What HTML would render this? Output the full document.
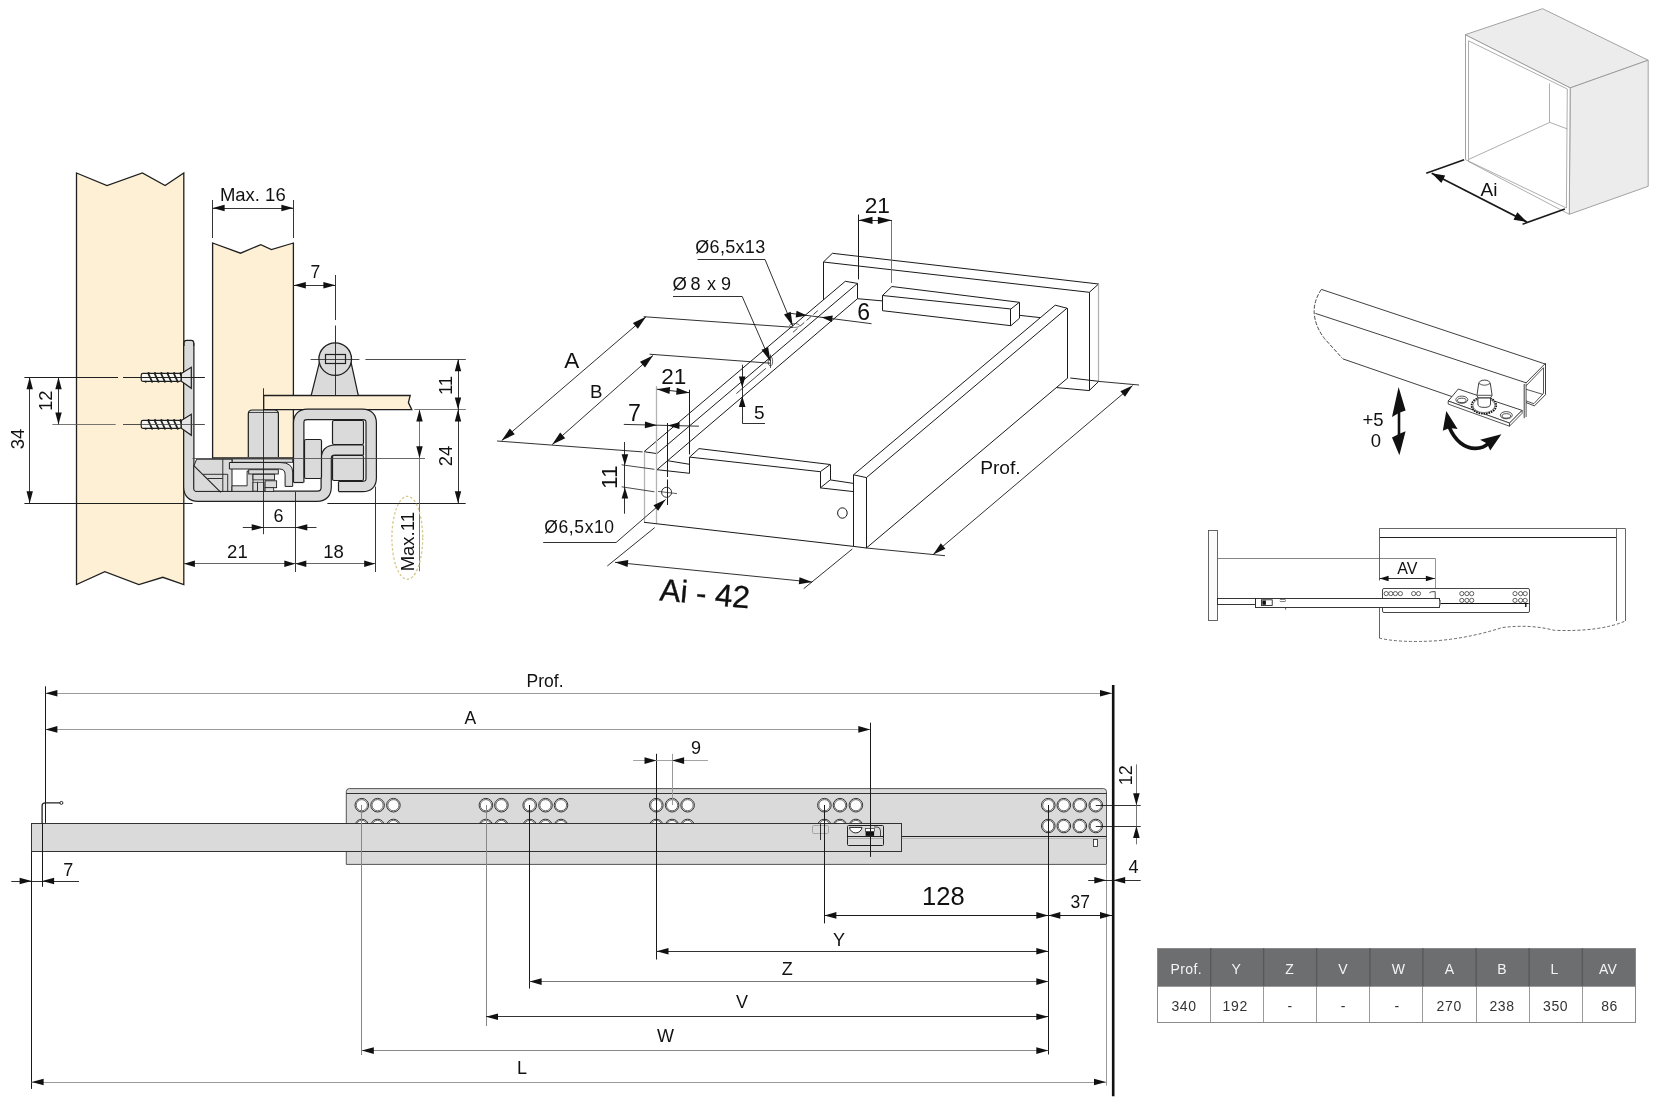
<!DOCTYPE html>
<html><head><meta charset="utf-8"><title>Drawer runner</title>
<style>html,body{margin:0;padding:0;background:#fff;}body{width:1676px;height:1108px;overflow:hidden;}svg{display:block;will-change:transform;}text{font-family:"Liberation Sans",sans-serif;}</style>
</head><body>
<svg width="1676" height="1108" viewBox="0 0 1676 1108">
<rect x="0" y="0" width="1676" height="1108" fill="#ffffff"/>
<polygon points="76.5,173 107,185.5 142.4,173 165.1,185.5 183.8,173 183.8,584.6 162.8,577.3 138.9,584.6 104.8,571.7 76.5,584.6" fill="#fef0d5" stroke="#1f1f1f" stroke-width="1.3" stroke-linejoin="miter" />
<polygon points="212.6,243 240.5,253.2 260.8,244.6 271.4,249.6 293.4,243 293.4,458 212.6,458" fill="#fef0d5" stroke="#1f1f1f" stroke-width="1.3" stroke-linejoin="miter" />
<line x1="212.5" y1="200" x2="212.5" y2="238" stroke="#1f1f1f" stroke-width="0.9" />
<line x1="293.5" y1="200" x2="293.5" y2="238" stroke="#1f1f1f" stroke-width="0.9" />
<line x1="212.6" y1="208.5" x2="293.4" y2="208.5" stroke="#1f1f1f" stroke-width="0.9" />
<polygon points="212.6,208 224.6,204.8 224.6,211.2" fill="#111" stroke="none" stroke-linejoin="miter" />
<polygon points="293.4,208 281.4,211.2 281.4,204.8" fill="#111" stroke="none" stroke-linejoin="miter" />
<text x="252.8" y="201" font-family="Liberation Sans" font-size="18.5" text-anchor="middle" fill="#111" >Max. 16</text>
<line x1="293.8" y1="285.5" x2="335.4" y2="285.5" stroke="#1f1f1f" stroke-width="0.9" />
<polygon points="293.8,285.2 305.8,282 305.8,288.4" fill="#111" stroke="none" stroke-linejoin="miter" />
<polygon points="335.4,285.2 323.4,288.4 323.4,282" fill="#111" stroke="none" stroke-linejoin="miter" />
<text x="315.4" y="278" font-family="Liberation Sans" font-size="17.5" text-anchor="middle" fill="#111" >7</text>
<line x1="335.5" y1="275" x2="335.5" y2="320" stroke="#1f1f1f" stroke-width="0.9" />
<line x1="335.5" y1="325.5" x2="335.5" y2="395" stroke="#1f1f1f" stroke-width="0.9" />
<line x1="24.4" y1="377.5" x2="118" y2="377.5" stroke="#1f1f1f" stroke-width="1.0" />
<line x1="123" y1="377.5" x2="204.7" y2="377.5" stroke="#1f1f1f" stroke-width="1.0" />
<line x1="52.4" y1="424.5" x2="115.7" y2="424.5" stroke="#555" stroke-width="0.8" />
<line x1="123" y1="424.5" x2="204.7" y2="424.5" stroke="#555" stroke-width="0.8" />
<line x1="24.4" y1="503.5" x2="192.5" y2="503.5" stroke="#1f1f1f" stroke-width="1.0" />
<line x1="29.5" y1="377.3" x2="29.5" y2="503.3" stroke="#1f1f1f" stroke-width="0.9" />
<polygon points="29.7,377.3 32.9,389.3 26.5,389.3" fill="#111" stroke="none" stroke-linejoin="miter" />
<polygon points="29.7,503.3 26.5,491.3 32.9,491.3" fill="#111" stroke="none" stroke-linejoin="miter" />
<text x="24" y="439" font-family="Liberation Sans" font-size="18.5" text-anchor="middle" fill="#111" transform="rotate(-90 24 439)" dominant-baseline="auto">34</text>
<line x1="58.5" y1="377.3" x2="58.5" y2="424.4" stroke="#1f1f1f" stroke-width="0.9" />
<polygon points="58.5,377.3 61.7,389.3 55.3,389.3" fill="#111" stroke="none" stroke-linejoin="miter" />
<polygon points="58.5,424.4 55.3,412.4 61.7,412.4" fill="#111" stroke="none" stroke-linejoin="miter" />
<text x="52.5" y="400.7" font-family="Liberation Sans" font-size="18.5" text-anchor="middle" fill="#111" transform="rotate(-90 52.5 400.7)" >12</text>
<path d="M188.8,343 L188.8,487 Q188.8,496.2 198,496.2 L317,496.2 Q326.2,496.2 326.2,487 L326.2,459 Q326.2,450.1 335,450.1 L363.5,450.1" fill="none" stroke="#1f1f1f" stroke-width="11.4" stroke-linejoin="round"/>
<path d="M188.8,343 L188.8,487 Q188.8,496.2 198,496.2 L317,496.2 Q326.2,496.2 326.2,487 L326.2,459 Q326.2,450.1 335,450.1 L363.5,450.1" fill="none" stroke="#dadada" stroke-width="9" stroke-linejoin="round"/>
<path d="M184.1,346 L184.1,342.5 Q184.1,340.3 186.5,340.3 L191.3,340.3 Q193.7,340.3 193.7,342.5 L193.7,346" fill="#dadada" stroke="#1f1f1f" stroke-width="1.2" />
<rect x="141.2" y="373.4" width="40.1" height="7.9" rx="1.8" fill="#f7f7f3" stroke="#1f1f1f" stroke-width="1.2" />
<line x1="148.2" y1="373.4" x2="151.9" y2="381.3" stroke="#1f1f1f" stroke-width="1.7" />
<circle cx="148.6" cy="373" r="1" fill="#1f1f1f" stroke="none" />
<circle cx="145.7" cy="381.7" r="1" fill="#1f1f1f" stroke="none" />
<line x1="154.6" y1="373.4" x2="158.3" y2="381.3" stroke="#1f1f1f" stroke-width="1.7" />
<circle cx="155" cy="373" r="1" fill="#1f1f1f" stroke="none" />
<circle cx="152.1" cy="381.7" r="1" fill="#1f1f1f" stroke="none" />
<line x1="161" y1="373.4" x2="164.7" y2="381.3" stroke="#1f1f1f" stroke-width="1.7" />
<circle cx="161.4" cy="373" r="1" fill="#1f1f1f" stroke="none" />
<circle cx="158.5" cy="381.7" r="1" fill="#1f1f1f" stroke="none" />
<line x1="167.4" y1="373.4" x2="171.1" y2="381.3" stroke="#1f1f1f" stroke-width="1.7" />
<circle cx="167.8" cy="373" r="1" fill="#1f1f1f" stroke="none" />
<circle cx="164.9" cy="381.7" r="1" fill="#1f1f1f" stroke="none" />
<line x1="173.8" y1="373.4" x2="177.5" y2="381.3" stroke="#1f1f1f" stroke-width="1.7" />
<circle cx="174.2" cy="373" r="1" fill="#1f1f1f" stroke="none" />
<circle cx="171.3" cy="381.7" r="1" fill="#1f1f1f" stroke="none" />
<line x1="180.2" y1="373.4" x2="183.9" y2="381.3" stroke="#1f1f1f" stroke-width="1.7" />
<circle cx="180.6" cy="373" r="1" fill="#1f1f1f" stroke="none" />
<circle cx="177.7" cy="381.7" r="1" fill="#1f1f1f" stroke="none" />
<polygon points="181.3,373.4 191.3,367.3 191.3,388.3 181.3,381.3" fill="#e6e6e6" stroke="#1f1f1f" stroke-width="1.2" stroke-linejoin="miter" />
<line x1="123" y1="377.5" x2="204.7" y2="377.5" stroke="#1f1f1f" stroke-width="1.0" />
<rect x="141.2" y="420.4" width="40.1" height="7.9" rx="1.8" fill="#f7f7f3" stroke="#1f1f1f" stroke-width="1.2" />
<line x1="148.2" y1="420.4" x2="151.9" y2="428.3" stroke="#1f1f1f" stroke-width="1.7" />
<circle cx="148.6" cy="420" r="1" fill="#1f1f1f" stroke="none" />
<circle cx="145.7" cy="428.7" r="1" fill="#1f1f1f" stroke="none" />
<line x1="154.6" y1="420.4" x2="158.3" y2="428.3" stroke="#1f1f1f" stroke-width="1.7" />
<circle cx="155" cy="420" r="1" fill="#1f1f1f" stroke="none" />
<circle cx="152.1" cy="428.7" r="1" fill="#1f1f1f" stroke="none" />
<line x1="161" y1="420.4" x2="164.7" y2="428.3" stroke="#1f1f1f" stroke-width="1.7" />
<circle cx="161.4" cy="420" r="1" fill="#1f1f1f" stroke="none" />
<circle cx="158.5" cy="428.7" r="1" fill="#1f1f1f" stroke="none" />
<line x1="167.4" y1="420.4" x2="171.1" y2="428.3" stroke="#1f1f1f" stroke-width="1.7" />
<circle cx="167.8" cy="420" r="1" fill="#1f1f1f" stroke="none" />
<circle cx="164.9" cy="428.7" r="1" fill="#1f1f1f" stroke="none" />
<line x1="173.8" y1="420.4" x2="177.5" y2="428.3" stroke="#1f1f1f" stroke-width="1.7" />
<circle cx="174.2" cy="420" r="1" fill="#1f1f1f" stroke="none" />
<circle cx="171.3" cy="428.7" r="1" fill="#1f1f1f" stroke="none" />
<line x1="180.2" y1="420.4" x2="183.9" y2="428.3" stroke="#1f1f1f" stroke-width="1.7" />
<circle cx="180.6" cy="420" r="1" fill="#1f1f1f" stroke="none" />
<circle cx="177.7" cy="428.7" r="1" fill="#1f1f1f" stroke="none" />
<polygon points="181.3,420.4 191.3,414.3 191.3,435.3 181.3,428.3" fill="#e6e6e6" stroke="#1f1f1f" stroke-width="1.2" stroke-linejoin="miter" />
<line x1="123" y1="424.5" x2="204.7" y2="424.5" stroke="#444" stroke-width="0.8" />
<polygon points="263.7,395.5 410.2,395.5 408.4,402.6 411.8,409.7 263.7,409.7" fill="#fef0d5" stroke="#1f1f1f" stroke-width="1.3" stroke-linejoin="miter" />
<polygon points="311.2,395.5 319.5,362 351,362 358.3,395.5" fill="#dadada" stroke="#1f1f1f" stroke-width="1.2" stroke-linejoin="miter" />
<circle cx="335.2" cy="359.1" r="16.3" fill="#dadada" stroke="#1f1f1f" stroke-width="1.3" />
<rect x="325.5" y="354.5" width="20" height="9" fill="#dadada" stroke="#1f1f1f" stroke-width="1.2" />
<line x1="335.5" y1="340" x2="335.5" y2="395.5" stroke="#1f1f1f" stroke-width="0.9" />
<line x1="310.6" y1="359.5" x2="359.4" y2="359.5" stroke="#1f1f1f" stroke-width="0.8" />
<line x1="365.4" y1="359.5" x2="465.8" y2="359.5" stroke="#1f1f1f" stroke-width="0.8" />
<line x1="414.3" y1="409.5" x2="465.8" y2="409.5" stroke="#555" stroke-width="0.8" />
<line x1="458.5" y1="359.2" x2="458.5" y2="503.3" stroke="#1f1f1f" stroke-width="0.9" />
<polygon points="458,359.2 461.2,371.2 454.8,371.2" fill="#111" stroke="none" stroke-linejoin="miter" />
<polygon points="458,409.5 454.8,397.5 461.2,397.5" fill="#111" stroke="none" stroke-linejoin="miter" />
<polygon points="458,409.5 461.2,421.5 454.8,421.5" fill="#111" stroke="none" stroke-linejoin="miter" />
<polygon points="458,503.3 454.8,491.3 461.2,491.3" fill="#111" stroke="none" stroke-linejoin="miter" />
<text x="452" y="385.5" font-family="Liberation Sans" font-size="18.5" text-anchor="middle" fill="#111" transform="rotate(-90 452 385.5)" >11</text>
<text x="452" y="456" font-family="Liberation Sans" font-size="18.5" text-anchor="middle" fill="#111" transform="rotate(-90 452 456)" >24</text>
<path d="M248.3,457 L248.3,414 Q248.3,410 252.3,410 L274.4,410 Q278.4,410 278.4,414 L278.4,457" fill="#dadada" stroke="#1f1f1f" stroke-width="1.2" />
<line x1="248.3" y1="412.5" x2="278.4" y2="412.5" stroke="#1f1f1f" stroke-width="0.8" />
<path d="M298.7,482.5 L298.7,423 Q298.7,414.4 307.3,414.4 L362.6,414.4 Q371.2,414.4 371.2,423 L371.2,478 Q371.2,486.5 362.6,486.5 L338.5,486.5" fill="none" stroke="#1f1f1f" stroke-width="11.6" stroke-linejoin="round"/>
<path d="M298.7,482.5 L298.7,423 Q298.7,414.4 307.3,414.4 L362.6,414.4 Q371.2,414.4 371.2,423 L371.2,478 Q371.2,486.5 362.6,486.5 L338.5,486.5" fill="none" stroke="#dadada" stroke-width="9.2" stroke-linejoin="round"/>
<line x1="293.9" y1="482.5" x2="303.5" y2="482.5" stroke="#1f1f1f" stroke-width="1.2" />
<line x1="338.5" y1="481.7" x2="338.5" y2="491.3" stroke="#1f1f1f" stroke-width="1.2" />
<rect x="332.5" y="420.5" width="31" height="24" rx="1.5" fill="#dadada" stroke="#1f1f1f" stroke-width="1.2" />
<rect x="332.5" y="455.5" width="31" height="25" rx="1.5" fill="#dadada" stroke="#1f1f1f" stroke-width="1.2" />
<rect x="304.5" y="439.5" width="17" height="39" rx="1.5" fill="#dadada" stroke="#1f1f1f" stroke-width="1.2" />
<line x1="363.5" y1="445.3" x2="363.5" y2="455" stroke="#1f1f1f" stroke-width="1.2" />
<rect x="232" y="458.9" width="60.7" height="3.4" fill="#dadada" stroke="#1f1f1f" stroke-width="0.9" />
<path d="M196.6,459.2 L232,459.2 L232,491.4 L196,491.4 Q193.8,491.4 193.8,489 L193.8,466 Z" fill="#dadada" stroke="#1f1f1f" stroke-width="1.0" />
<line x1="222.8" y1="459.2" x2="222.8" y2="491.4" stroke="#1f1f1f" stroke-width="0.9" />
<line x1="227.7" y1="474.3" x2="227.7" y2="491.4" stroke="#1f1f1f" stroke-width="0.9" />
<line x1="203.1" y1="474.3" x2="227.7" y2="474.3" stroke="#1f1f1f" stroke-width="0.9" />
<line x1="207.4" y1="478.5" x2="222.8" y2="478.5" stroke="#1f1f1f" stroke-width="0.9" />
<line x1="193.8" y1="465.7" x2="220.8" y2="492.4" stroke="#1f1f1f" stroke-width="1.1" />
<path d="M229.4,462.5 L280,462.5 Q292.7,462.5 292.7,472 L292.7,486.4 L285.1,486.4 L285.1,474.5 Q285.1,469 279.5,469 L229.4,469 Z" fill="#dadada" stroke="#1f1f1f" stroke-width="1.0" />
<polygon points="247.1,471 253,471 253,491.4 232,491.4 232,485.8 247.1,485.8" fill="#dadada" stroke="#1f1f1f" stroke-width="0.9" stroke-linejoin="miter" />
<rect x="248.7" y="469.7" width="29.6" height="4.3" fill="#dadada" stroke="#1f1f1f" stroke-width="0.9" />
<rect x="253" y="474.3" width="21.6" height="5.6" fill="#dadada" stroke="#1f1f1f" stroke-width="0.9" />
<rect x="265.1" y="480.8" width="11.5" height="6.9" fill="#dadada" stroke="#1f1f1f" stroke-width="0.9" />
<rect x="253" y="482.2" width="4.6" height="8.9" fill="#dadada" stroke="#1f1f1f" stroke-width="0.8" />
<rect x="257.6" y="482.2" width="6.5" height="9.2" fill="#dadada" stroke="#1f1f1f" stroke-width="0.8" />
<rect x="265.1" y="487.7" width="8.6" height="3.7" fill="#dadada" stroke="#1f1f1f" stroke-width="0.8" />
<line x1="192.5" y1="458.5" x2="425" y2="458.5" stroke="#444" stroke-width="0.8" />
<line x1="263.5" y1="388.3" x2="263.5" y2="534.2" stroke="#1f1f1f" stroke-width="0.9" />
<line x1="327.4" y1="503.5" x2="465.7" y2="503.5" stroke="#1f1f1f" stroke-width="1.0" />
<line x1="242.8" y1="527.5" x2="316.5" y2="527.5" stroke="#1f1f1f" stroke-width="0.9" />
<polygon points="263.7,527.4 251.7,530.6 251.7,524.2" fill="#111" stroke="none" stroke-linejoin="miter" />
<polygon points="295.3,527.4 307.3,524.2 307.3,530.6" fill="#111" stroke="none" stroke-linejoin="miter" />
<text x="278.5" y="522.3" font-family="Liberation Sans" font-size="18" text-anchor="middle" fill="#111" >6</text>
<line x1="295.5" y1="492" x2="295.5" y2="572" stroke="#1f1f1f" stroke-width="0.9" />
<line x1="375.5" y1="486.6" x2="375.5" y2="572" stroke="#1f1f1f" stroke-width="0.9" />
<line x1="183.9" y1="563.5" x2="375.2" y2="563.5" stroke="#555" stroke-width="0.9" />
<polygon points="183.9,563.7 194.9,560.5 194.9,566.9" fill="#111" stroke="none" stroke-linejoin="miter" />
<polygon points="295.3,563.7 284.3,566.9 284.3,560.5" fill="#111" stroke="none" stroke-linejoin="miter" />
<polygon points="295.3,563.7 306.3,560.5 306.3,566.9" fill="#111" stroke="none" stroke-linejoin="miter" />
<polygon points="375.2,563.7 364.2,566.9 364.2,560.5" fill="#111" stroke="none" stroke-linejoin="miter" />
<text x="237.4" y="558" font-family="Liberation Sans" font-size="18.5" text-anchor="middle" fill="#111" >21</text>
<text x="333.6" y="558" font-family="Liberation Sans" font-size="18.5" text-anchor="middle" fill="#111" >18</text>
<line x1="419.5" y1="410" x2="419.5" y2="571.2" stroke="#666" stroke-width="0.9" />
<polygon points="419.5,409.5 422.7,421.5 416.3,421.5" fill="#111" stroke="none" stroke-linejoin="miter" />
<polygon points="419.5,458.3 416.3,446.3 422.7,446.3" fill="#111" stroke="none" stroke-linejoin="miter" />
<ellipse cx="407.3" cy="537.8" rx="15.4" ry="41.5" fill="none" stroke="#d6c78e" stroke-width="1.3" stroke-dasharray="2.5,2"/>
<text x="414.5" y="541.7" font-family="Liberation Sans" font-size="18.5" text-anchor="middle" fill="#111" transform="rotate(-90 414.5 541.7)" >Max.11</text>
<line x1="832.4" y1="253.3" x2="1098.6" y2="284" stroke="#1a1a1a" stroke-width="1.0" />
<line x1="823.4" y1="262" x2="1089.3" y2="292.3" stroke="#1a1a1a" stroke-width="1.0" />
<line x1="823.4" y1="262" x2="832.4" y2="253.3" stroke="#1a1a1a" stroke-width="1.0" />
<line x1="1089.3" y1="292.3" x2="1098.6" y2="284" stroke="#1a1a1a" stroke-width="1.0" />
<line x1="1089.5" y1="292.3" x2="1089.5" y2="390.5" stroke="#1a1a1a" stroke-width="1.0" />
<line x1="1098.5" y1="284" x2="1098.5" y2="381.5" stroke="#b0b0b0" stroke-width="1.2" />
<line x1="1089.3" y1="390.5" x2="1098.6" y2="381.5" stroke="#1a1a1a" stroke-width="1.0" />
<line x1="823.5" y1="262" x2="823.5" y2="300" stroke="#1a1a1a" stroke-width="1.0" />
<line x1="857.5" y1="298.7" x2="882.5" y2="300.9" stroke="#1a1a1a" stroke-width="1.0" />
<line x1="1019.3" y1="315.3" x2="1040" y2="317.6" stroke="#1a1a1a" stroke-width="1.0" />
<line x1="1056.6" y1="387.6" x2="1089.3" y2="390.6" stroke="#1a1a1a" stroke-width="1.0" />
<line x1="1070.3" y1="378" x2="1098.6" y2="381.3" stroke="#1a1a1a" stroke-width="1.0" />
<line x1="891.9" y1="286.5" x2="1019.3" y2="302.3" stroke="#1a1a1a" stroke-width="1.0" />
<line x1="882.5" y1="295.5" x2="1010.9" y2="309" stroke="#1a1a1a" stroke-width="1.0" />
<line x1="882.5" y1="310.7" x2="1010.9" y2="325.7" stroke="#1a1a1a" stroke-width="1.0" />
<line x1="891.9" y1="286.5" x2="882.5" y2="295.5" stroke="#1a1a1a" stroke-width="1.0" />
<line x1="1019.3" y1="302.3" x2="1010.9" y2="309" stroke="#1a1a1a" stroke-width="1.0" />
<line x1="882.5" y1="295.5" x2="882.5" y2="310.7" stroke="#1a1a1a" stroke-width="1.0" />
<line x1="1010.5" y1="309" x2="1010.5" y2="325.7" stroke="#1a1a1a" stroke-width="1.0" />
<line x1="1019.5" y1="302.3" x2="1019.5" y2="318.4" stroke="#1a1a1a" stroke-width="1.0" />
<line x1="1010.9" y1="325.7" x2="1019.3" y2="318.4" stroke="#1a1a1a" stroke-width="1.0" />
<line x1="644" y1="451.7" x2="845.3" y2="281.3" stroke="#1a1a1a" stroke-width="1.0" />
<line x1="656.9" y1="453.6" x2="857.5" y2="283.4" stroke="#1a1a1a" stroke-width="1.0" />
<line x1="845.3" y1="281.3" x2="857.5" y2="283.4" stroke="#1a1a1a" stroke-width="1.0" />
<line x1="857.5" y1="283.4" x2="857.5" y2="298.7" stroke="#1a1a1a" stroke-width="1.0" />
<line x1="657" y1="469.7" x2="857.5" y2="298.7" stroke="#1a1a1a" stroke-width="1.0" />
<line x1="644" y1="451.7" x2="656.9" y2="453.6" stroke="#1a1a1a" stroke-width="1.0" />
<line x1="736.3" y1="393.6" x2="765.9" y2="368.3" stroke="#1a1a1a" stroke-width="0.8" />
<line x1="793" y1="332.3" x2="817.8" y2="310.6" stroke="#1a1a1a" stroke-width="0.8" stroke-dasharray="6,3"/>
<ellipse cx="770.4" cy="361.3" rx="2.2" ry="4.5" fill="none" stroke="#1a1a1a" stroke-width="0.7" />
<line x1="770.5" y1="354.5" x2="770.5" y2="368" stroke="#1a1a1a" stroke-width="0.7" />
<ellipse cx="794.5" cy="325.5" rx="5" ry="2" fill="none" stroke="#444" stroke-width="0.7" />
<line x1="644.5" y1="451.7" x2="644.5" y2="522.3" stroke="#b4b4b4" stroke-width="1.3" />
<line x1="656.5" y1="386" x2="656.5" y2="523.8" stroke="#b4b4b4" stroke-width="1.3" />
<line x1="644" y1="522.3" x2="853.5" y2="546.4" stroke="#1a1a1a" stroke-width="1.0" />
<line x1="657" y1="469.7" x2="689.6" y2="473.3" stroke="#1a1a1a" stroke-width="1.0" />
<line x1="667.5" y1="460.7" x2="689.6" y2="464.3" stroke="#1a1a1a" stroke-width="1.0" />
<line x1="689.5" y1="457.1" x2="689.5" y2="473.3" stroke="#1a1a1a" stroke-width="1.0" />
<line x1="689.6" y1="457.1" x2="699" y2="448.6" stroke="#1a1a1a" stroke-width="1.0" />
<line x1="699" y1="448.6" x2="830.2" y2="464.5" stroke="#1a1a1a" stroke-width="1.0" />
<line x1="689.6" y1="457.1" x2="820.3" y2="471.7" stroke="#1a1a1a" stroke-width="1.0" />
<line x1="820.5" y1="471.7" x2="820.5" y2="487.9" stroke="#1a1a1a" stroke-width="1.0" />
<line x1="820.3" y1="487.9" x2="853.5" y2="491.6" stroke="#1a1a1a" stroke-width="1.0" />
<line x1="830.5" y1="464.5" x2="830.5" y2="479.9" stroke="#1a1a1a" stroke-width="1.0" />
<line x1="830.2" y1="479.9" x2="853.5" y2="483.4" stroke="#1a1a1a" stroke-width="1.0" />
<line x1="820.3" y1="471.7" x2="830.2" y2="464.5" stroke="#1a1a1a" stroke-width="1.0" />
<line x1="820.3" y1="487.9" x2="830.2" y2="479.9" stroke="#1a1a1a" stroke-width="1.0" />
<ellipse cx="842.4" cy="513" rx="4.8" ry="5.2" fill="none" stroke="#1a1a1a" stroke-width="1.0" />
<line x1="853.5" y1="474.8" x2="866.4" y2="477.6" stroke="#1a1a1a" stroke-width="1.0" />
<line x1="853.5" y1="474.8" x2="853.5" y2="546.4" stroke="#1a1a1a" stroke-width="1.0" />
<line x1="866.5" y1="477.6" x2="866.5" y2="548" stroke="#1a1a1a" stroke-width="1.0" />
<line x1="853.5" y1="546.4" x2="866.4" y2="548" stroke="#1a1a1a" stroke-width="1.0" />
<line x1="853.5" y1="474.8" x2="1055.2" y2="305.2" stroke="#1a1a1a" stroke-width="1.0" />
<line x1="866.4" y1="477.6" x2="1067" y2="308.2" stroke="#1a1a1a" stroke-width="1.0" />
<line x1="1055.2" y1="305.2" x2="1067" y2="308.2" stroke="#1a1a1a" stroke-width="1.0" />
<line x1="1067.5" y1="308.2" x2="1067.5" y2="378.6" stroke="#1a1a1a" stroke-width="1.0" />
<line x1="866.4" y1="548" x2="1067" y2="378.6" stroke="#1a1a1a" stroke-width="1.0" />
<line x1="866.4" y1="548" x2="945" y2="555.7" stroke="#1a1a1a" stroke-width="0.9" />
<line x1="1098.6" y1="381.4" x2="1139" y2="385" stroke="#1a1a1a" stroke-width="0.9" />
<line x1="933.2" y1="554.5" x2="1132.6" y2="385.6" stroke="#1a1a1a" stroke-width="0.9" />
<polygon points="933.2,554.5 940.79,543.35 945.44,548.84" fill="#111" stroke="none" stroke-linejoin="miter" />
<polygon points="1132.6,385.6 1125.01,396.75 1120.36,391.26" fill="#111" stroke="none" stroke-linejoin="miter" />
<text x="1000.4" y="473.8" font-family="Liberation Sans" font-size="19.2" text-anchor="middle" fill="#111" >Prof.</text>
<circle cx="666.6" cy="492.3" r="5" fill="none" stroke="#1a1a1a" stroke-width="0.9" />
<line x1="667.5" y1="423" x2="667.5" y2="477" stroke="#1a1a1a" stroke-width="1.0" />
<line x1="667.5" y1="479.5" x2="667.5" y2="505" stroke="#1a1a1a" stroke-width="1.0" />
<line x1="658" y1="491.4" x2="677" y2="493.6" stroke="#1a1a1a" stroke-width="0.7" />
<line x1="623.8" y1="424.4" x2="698.9" y2="426.2" stroke="#1a1a1a" stroke-width="0.9" />
<polygon points="656.9,425.2 644.82,428.31 644.99,421.51" fill="#111" stroke="none" stroke-linejoin="miter" />
<polygon points="667.5,425.4 679.58,422.29 679.41,429.09" fill="#111" stroke="none" stroke-linejoin="miter" />
<text x="634.5" y="421" font-family="Liberation Sans" font-size="23.2" text-anchor="middle" fill="#111" >7</text>
<line x1="689.5" y1="389.7" x2="689.5" y2="454.4" stroke="#1a1a1a" stroke-width="1.0" />
<line x1="656.9" y1="389.2" x2="689.4" y2="392.7" stroke="#1a1a1a" stroke-width="0.9" />
<polygon points="656.9,389.2 670.2,387.11 669.45,394.07" fill="#111" stroke="none" stroke-linejoin="miter" />
<polygon points="689.4,392.7 676.1,394.79 676.85,387.83" fill="#111" stroke="none" stroke-linejoin="miter" />
<text x="673.7" y="384" font-family="Liberation Sans" font-size="22.5" text-anchor="middle" fill="#111" >21</text>
<line x1="621.6" y1="464.8" x2="654.4" y2="469.3" stroke="#1a1a1a" stroke-width="0.8" />
<line x1="621.6" y1="486.8" x2="654.4" y2="491.8" stroke="#1a1a1a" stroke-width="0.8" />
<line x1="624.5" y1="442" x2="624.5" y2="513.7" stroke="#1a1a1a" stroke-width="0.9" />
<polygon points="624.9,465.3 621.6,454.3 628.2,454.3" fill="#111" stroke="none" stroke-linejoin="miter" />
<polygon points="624.9,487.5 628.2,498.5 621.6,498.5" fill="#111" stroke="none" stroke-linejoin="miter" />
<text x="616.6" y="477.1" font-family="Liberation Sans" font-size="22.7" text-anchor="middle" fill="#111" transform="rotate(-90 616.6 477.1)" >11</text>
<text x="544.3" y="532.5" font-family="Liberation Sans" font-size="17.5" text-anchor="start" fill="#111" letter-spacing="0.6">Ø6,5x10</text>
<polyline points="543.2,542.5 616.1,542.5 665.6,499.5" fill="none" stroke="#1a1a1a" stroke-width="0.9" stroke-linejoin="miter" />
<polygon points="665.6,499.5 658.13,510.73 653.42,505.29" fill="#111" stroke="none" stroke-linejoin="miter" />
<line x1="607.3" y1="566" x2="654.7" y2="527.6" stroke="#1a1a1a" stroke-width="0.9" />
<line x1="803.7" y1="588.7" x2="852.3" y2="549" stroke="#1a1a1a" stroke-width="0.9" />
<line x1="615" y1="562.3" x2="812.1" y2="582.1" stroke="#1a1a1a" stroke-width="0.9" />
<polygon points="615,562.3 628.28,560.12 627.59,567.08" fill="#111" stroke="none" stroke-linejoin="miter" />
<polygon points="812.1,582.1 798.82,584.28 799.51,577.32" fill="#111" stroke="none" stroke-linejoin="miter" />
<text x="704" y="604.3" font-family="Liberation Sans" font-size="31.2" text-anchor="middle" fill="#111" transform="rotate(5.2 704 604.3)" stroke="#111" stroke-width="0.35">Ai - 42</text>
<line x1="497" y1="441" x2="642.6" y2="451.9" stroke="#1a1a1a" stroke-width="0.9" />
<line x1="643.7" y1="316.7" x2="792.7" y2="327.3" stroke="#1a1a1a" stroke-width="0.9" />
<line x1="649.5" y1="354.2" x2="770.4" y2="363.2" stroke="#1a1a1a" stroke-width="0.9" />
<line x1="501.7" y1="440.6" x2="646" y2="316.7" stroke="#1a1a1a" stroke-width="0.9" />
<polygon points="501.7,440.6 509.85,428.6 514.8,434.36" fill="#111" stroke="none" stroke-linejoin="miter" />
<polygon points="646,316.7 637.85,328.7 632.9,322.94" fill="#111" stroke="none" stroke-linejoin="miter" />
<line x1="552.2" y1="444.6" x2="653" y2="355.4" stroke="#1a1a1a" stroke-width="0.9" />
<polygon points="552.2,444.6 560.17,432.48 565.2,438.17" fill="#111" stroke="none" stroke-linejoin="miter" />
<polygon points="653,355.4 645.03,367.52 640,361.83" fill="#111" stroke="none" stroke-linejoin="miter" />
<text x="571.8" y="367.8" font-family="Liberation Sans" font-size="22.5" text-anchor="middle" fill="#111" >A</text>
<text x="596.3" y="397.8" font-family="Liberation Sans" font-size="18.7" text-anchor="middle" fill="#111" >B</text>
<text x="695.3" y="253.4" font-family="Liberation Sans" font-size="18" text-anchor="start" fill="#111" letter-spacing="0.3">Ø6,5x13</text>
<polyline points="697.6,259.5 765,259.5 792.7,326.1" fill="none" stroke="#1a1a1a" stroke-width="0.9" stroke-linejoin="miter" />
<polygon points="792.7,326.1 784.02,314.54 790.67,311.79" fill="#111" stroke="none" stroke-linejoin="miter" />
<text x="672.5" y="290.4" font-family="Liberation Sans" font-size="18.5" text-anchor="start" fill="#111" >Ø</text>
<text x="690.6" y="290.4" font-family="Liberation Sans" font-size="18" text-anchor="start" fill="#111" >8</text>
<text x="707" y="290.4" font-family="Liberation Sans" font-size="18" text-anchor="start" fill="#111" >x</text>
<text x="721.1" y="290.4" font-family="Liberation Sans" font-size="18" text-anchor="start" fill="#111" >9</text>
<polyline points="673,296.5 742.2,296.5 770.4,361.3" fill="none" stroke="#1a1a1a" stroke-width="0.9" stroke-linejoin="miter" />
<polygon points="770.4,361.3 761.54,349.87 768.15,347.02" fill="#111" stroke="none" stroke-linejoin="miter" />
<polyline points="742.5,364.8 742.5,423.5 765,423.5" fill="none" stroke="#1a1a1a" stroke-width="0.9" stroke-linejoin="miter" />
<polygon points="742.2,387.4 738.9,376.4 745.5,376.4" fill="#111" stroke="none" stroke-linejoin="miter" />
<polygon points="742.2,396.1 745.5,407.1 738.9,407.1" fill="#111" stroke="none" stroke-linejoin="miter" />
<text x="759.4" y="419.4" font-family="Liberation Sans" font-size="19" text-anchor="middle" fill="#111" >5</text>
<line x1="790.2" y1="313.3" x2="871.5" y2="323.7" stroke="#1a1a1a" stroke-width="0.9" />
<polygon points="807,315.5 795.67,317.38 796.51,310.83" fill="#111" stroke="none" stroke-linejoin="miter" />
<polygon points="821.4,317.3 832.73,315.42 831.89,321.97" fill="#111" stroke="none" stroke-linejoin="miter" />
<text x="863.6" y="319.5" font-family="Liberation Sans" font-size="23" text-anchor="middle" fill="#111" >6</text>
<line x1="858.5" y1="214.5" x2="858.5" y2="279.4" stroke="#1a1a1a" stroke-width="1.0" />
<line x1="891.5" y1="220" x2="891.5" y2="283" stroke="#666" stroke-width="0.9" />
<line x1="858.5" y1="220.5" x2="891.9" y2="220.5" stroke="#1a1a1a" stroke-width="0.9" />
<polygon points="858.5,220.3 872.5,216.7 872.5,223.9" fill="#111" stroke="none" stroke-linejoin="miter" />
<polygon points="891.9,220.3 877.9,223.9 877.9,216.7" fill="#111" stroke="none" stroke-linejoin="miter" />
<text x="877.3" y="213.2" font-family="Liberation Sans" font-size="22.7" text-anchor="middle" fill="#111" >21</text>
<polygon points="1465.2,34.7 1542.6,8.7 1648.2,60.2 1570.2,87.9" fill="#ececec" stroke="#999999" stroke-width="0.9" stroke-linejoin="miter" />
<polygon points="1570.2,87.9 1648.2,60.2 1648.2,186.3 1569.3,214.3" fill="#ececec" stroke="#999999" stroke-width="0.9" stroke-linejoin="miter" />
<polygon points="1465.2,34.7 1570.2,87.9 1569.3,214.3 1465.2,159.5" fill="#ffffff" stroke="none" stroke-linejoin="miter" />
<line x1="1465.5" y1="34.7" x2="1465.5" y2="159.5" stroke="#999999" stroke-width="0.9" />
<line x1="1468.5" y1="40.8" x2="1468.5" y2="161.5" stroke="#999999" stroke-width="0.8" />
<line x1="1465.2" y1="34.7" x2="1570.2" y2="87.9" stroke="#999999" stroke-width="0.9" />
<line x1="1468.5" y1="40.8" x2="1567.3" y2="89" stroke="#999999" stroke-width="0.8" />
<line x1="1567.3" y1="89" x2="1566.4" y2="208" stroke="#999999" stroke-width="0.8" />
<line x1="1570.2" y1="87.9" x2="1569.3" y2="214.3" stroke="#999999" stroke-width="0.9" />
<line x1="1465.2" y1="159.5" x2="1566.4" y2="208" stroke="#999999" stroke-width="0.8" />
<line x1="1468.5" y1="161.5" x2="1569.3" y2="214.3" stroke="#999999" stroke-width="0.8" />
<line x1="1549.5" y1="83.4" x2="1549.5" y2="122.4" stroke="#999999" stroke-width="0.8" />
<line x1="1549.7" y1="122.4" x2="1567.3" y2="128.9" stroke="#999999" stroke-width="0.8" />
<line x1="1549.7" y1="122.4" x2="1468.5" y2="159.5" stroke="#999999" stroke-width="0.8" />
<line x1="1426.2" y1="173.3" x2="1464.1" y2="159.8" stroke="#1a1a1a" stroke-width="1.6" />
<line x1="1522.6" y1="224.2" x2="1564.9" y2="209" stroke="#1a1a1a" stroke-width="1.6" />
<line x1="1431.7" y1="173.3" x2="1527" y2="222" stroke="#1a1a1a" stroke-width="1.6" />
<polygon points="1431.7,173.3 1445.19,175.48 1441.36,182.96" fill="#111" stroke="none" stroke-linejoin="miter" />
<polygon points="1527,222 1513.51,219.82 1517.34,212.34" fill="#111" stroke="none" stroke-linejoin="miter" />
<text x="1489" y="195.5" font-family="Liberation Sans" font-size="19" text-anchor="middle" fill="#111" >Ai</text>
<line x1="1321.4" y1="289.4" x2="1545.2" y2="364" stroke="#2a2a2a" stroke-width="0.9" />
<line x1="1315.4" y1="313.4" x2="1526.4" y2="382.9" stroke="#2a2a2a" stroke-width="0.9" />
<line x1="1342.9" y1="358.9" x2="1452" y2="396.6" stroke="#2a2a2a" stroke-width="0.9" />
<path d="M1321.4,289.4 Q1313.5,301 1314.2,313 Q1315,326 1324.4,338.5 L1342.4,358.4" fill="none" stroke="#333" stroke-width="0.9" stroke-dasharray="4,1.6"/>
<polyline points="1525.7,383.2 1545.5,363.3 1545.5,394.7 1534.4,405.9 1526.1,402.6" fill="none" stroke="#2a2a2a" stroke-width="0.9" stroke-linejoin="miter" />
<polyline points="1526.1,385.8 1543.5,367.7 1543.5,393.3 1534,403.6" fill="none" stroke="#2a2a2a" stroke-width="0.8" stroke-linejoin="miter" />
<line x1="1526.1" y1="389.3" x2="1543" y2="394.4" stroke="#2a2a2a" stroke-width="0.8" />
<line x1="1526.1" y1="400.9" x2="1534" y2="403.8" stroke="#2a2a2a" stroke-width="0.8" />
<line x1="1524.2" y1="384" x2="1524.2" y2="418.2" stroke="#2a2a2a" stroke-width="0.9" />
<line x1="1526.1" y1="384" x2="1526.1" y2="417" stroke="#2a2a2a" stroke-width="0.8" />
<polygon points="1458.3,389 1522.1,410.4 1509.5,423.1 1448.2,401" fill="#ffffff" stroke="#2a2a2a" stroke-width="0.9" stroke-linejoin="miter" />
<polygon points="1448.2,401 1509.5,423.1 1509.5,426.2 1448.2,404.1" fill="#ffffff" stroke="#2a2a2a" stroke-width="0.8" stroke-linejoin="miter" />
<polygon points="1509.5,423.1 1522.1,410.4 1522.1,413.3 1509.5,426.2" fill="#ffffff" stroke="#2a2a2a" stroke-width="0.8" stroke-linejoin="miter" />
<ellipse cx="1461.8" cy="399.7" rx="6" ry="3.6" fill="#fff" stroke="#2a2a2a" stroke-width="0.8" />
<ellipse cx="1461.8" cy="400.4" rx="4.3" ry="2.2" fill="none" stroke="#2a2a2a" stroke-width="0.8" />
<ellipse cx="1506.3" cy="415.2" rx="6" ry="3.6" fill="#fff" stroke="#2a2a2a" stroke-width="0.8" />
<ellipse cx="1506.3" cy="415.9" rx="4.3" ry="2.2" fill="none" stroke="#2a2a2a" stroke-width="0.8" />
<ellipse cx="1483.9" cy="405.4" rx="12.3" ry="8.3" fill="#fff" stroke="#111" stroke-width="1.8" stroke-dasharray="1.6,0.9"/>
<ellipse cx="1483.9" cy="405.4" rx="11" ry="7.2" fill="#fff" stroke="#2a2a2a" stroke-width="0.6" />
<path d="M1477.9,397.8 L1477.9,404 Q1477.9,407.4 1484.2,407.4 Q1490.5,407.4 1490.5,404 L1490.5,397.8 Z" fill="#fff" stroke="#2a2a2a" stroke-width="0.9" />
<path d="M1477,395.3 L1478.6,384 Q1479.2,380.1 1484.5,380.1 Q1489.8,380.1 1490.4,384 L1492.1,395.3 L1490.5,397.8 L1477.9,397.8 Z" fill="#fff" stroke="#2a2a2a" stroke-width="0.9" />
<line x1="1477.4" y1="395.3" x2="1491.8" y2="395.3" stroke="#2a2a2a" stroke-width="0.8" />
<path d="M1479,383.5 Q1484.5,387 1490,383.5" fill="none" stroke="#2a2a2a" stroke-width="0.8" />
<line x1="1399" y1="411" x2="1399" y2="436" stroke="#111" stroke-width="2.6" />
<polygon points="1398.6,387 1405.6,410.6 1399.2,412.8 1392,416.9" fill="#111" stroke="none" stroke-linejoin="miter" />
<polygon points="1399.4,455.3 1392,437.4 1398.9,434 1405.6,431.2" fill="#111" stroke="none" stroke-linejoin="miter" />
<text x="1383.5" y="425.8" font-family="Liberation Sans" font-size="18.5" text-anchor="end" fill="#111" >+5</text>
<text x="1376" y="447.2" font-family="Liberation Sans" font-size="18.5" text-anchor="middle" fill="#111" >0</text>
<path d="M1449.2,427 C1455,441 1465,448.5 1475.5,448.4 C1481.5,448.3 1485.5,446.2 1488.5,443.2" fill="none" stroke="#111" stroke-width="3.6" />
<polygon points="1446.3,411 1457.6,428.9 1449.6,428 1442.8,430.8" fill="#111" stroke="none" stroke-linejoin="miter" />
<polygon points="1501.4,434.3 1490.2,450.6 1487,443.5 1480.1,439.7" fill="#111" stroke="none" stroke-linejoin="miter" />
<rect x="1208.5" y="530.5" width="9" height="90" fill="#fbfbfb" stroke="#555" stroke-width="0.9" />
<line x1="1217.9" y1="558.5" x2="1435.5" y2="558.5" stroke="#777" stroke-width="0.9" />
<line x1="1435.5" y1="558.6" x2="1435.5" y2="590.6" stroke="#888" stroke-width="0.9" />
<line x1="1379.3" y1="528.5" x2="1625.3" y2="528.5" stroke="#555" stroke-width="0.9" />
<line x1="1379.3" y1="537.5" x2="1616.6" y2="537.5" stroke="#222" stroke-width="1.0" />
<line x1="1616.5" y1="528.4" x2="1616.5" y2="621" stroke="#555" stroke-width="0.9" />
<line x1="1625.5" y1="528.4" x2="1625.5" y2="621" stroke="#555" stroke-width="0.9" />
<line x1="1379.5" y1="528.4" x2="1379.5" y2="580.5" stroke="#555" stroke-width="0.9" />
<line x1="1379.5" y1="607.6" x2="1379.5" y2="638.1" stroke="#555" stroke-width="0.9" />
<path d="M1379.3,638.1 Q1400,643 1436,640.8 Q1470,638 1502,627.6 Q1530,624 1554,630.3 Q1600,632 1625.3,621" fill="none" stroke="#555" stroke-width="0.9" stroke-dasharray="3,2"/>
<line x1="1379.6" y1="578.5" x2="1434.9" y2="578.5" stroke="#1a1a1a" stroke-width="0.9" />
<polygon points="1379.6,578.5 1388.6,575.7 1388.6,581.3" fill="#111" stroke="none" stroke-linejoin="miter" />
<polygon points="1434.9,578.5 1425.9,581.3 1425.9,575.7" fill="#111" stroke="none" stroke-linejoin="miter" />
<text x="1407.4" y="574" font-family="Liberation Sans" font-size="16" text-anchor="middle" fill="#111" >AV</text>
<rect x="1382.5" y="588.5" width="147" height="24" rx="1.5" fill="#fff" stroke="#333" stroke-width="0.9" />
<circle cx="1386.2" cy="593.6" r="2.1" fill="#fff" stroke="#222" stroke-width="0.7" />
<circle cx="1390.8" cy="593.6" r="2.1" fill="#fff" stroke="#222" stroke-width="0.7" />
<circle cx="1395.4" cy="593.6" r="2.1" fill="#fff" stroke="#222" stroke-width="0.7" />
<circle cx="1400.4" cy="593.6" r="2.1" fill="#fff" stroke="#222" stroke-width="0.7" />
<circle cx="1413.6" cy="593.6" r="2.1" fill="#fff" stroke="#222" stroke-width="0.7" />
<circle cx="1418.5" cy="593.6" r="2.1" fill="#fff" stroke="#222" stroke-width="0.7" />
<circle cx="1461.8" cy="593.6" r="2.1" fill="#fff" stroke="#222" stroke-width="0.7" />
<circle cx="1466.9" cy="593.6" r="2.1" fill="#fff" stroke="#222" stroke-width="0.7" />
<circle cx="1471.7" cy="593.6" r="2.1" fill="#fff" stroke="#222" stroke-width="0.7" />
<circle cx="1515" cy="593.6" r="2.1" fill="#fff" stroke="#222" stroke-width="0.7" />
<circle cx="1520.6" cy="593.6" r="2.1" fill="#fff" stroke="#222" stroke-width="0.7" />
<circle cx="1525.2" cy="593.6" r="2.1" fill="#fff" stroke="#222" stroke-width="0.7" />
<circle cx="1461.8" cy="600.4" r="2.1" fill="#fff" stroke="#222" stroke-width="0.7" />
<circle cx="1466.9" cy="600.4" r="2.1" fill="#fff" stroke="#222" stroke-width="0.7" />
<circle cx="1471.7" cy="600.4" r="2.1" fill="#fff" stroke="#222" stroke-width="0.7" />
<circle cx="1515" cy="600.4" r="2.1" fill="#fff" stroke="#222" stroke-width="0.7" />
<circle cx="1520.6" cy="600.4" r="2.1" fill="#fff" stroke="#222" stroke-width="0.7" />
<circle cx="1525.2" cy="600.4" r="2.1" fill="#fff" stroke="#222" stroke-width="0.7" />
<line x1="1440" y1="603.5" x2="1528.7" y2="603.5" stroke="#111" stroke-width="1.0" />
<line x1="1525.8" y1="603.4" x2="1525.8" y2="607" stroke="#111" stroke-width="1.4" />
<path d="M1429.4,592.8 Q1430.5,591.4 1435.2,591.6 L1435.2,598" fill="none" stroke="#222" stroke-width="0.8" />
<rect x="1217.5" y="598.5" width="38" height="6" fill="#fff" stroke="#222" stroke-width="0.9" />
<rect x="1255.5" y="598.5" width="184" height="9" fill="#fff" stroke="#222" stroke-width="0.9" />
<rect x="1439.5" y="600.5" width="1" height="5" fill="#fff" stroke="#444" stroke-width="0.5" />
<rect x="1261.5" y="599.8" width="10.7" height="5.7" fill="#fff" stroke="#111" stroke-width="0.8" />
<rect x="1262.3" y="600.5" width="3.6" height="4.3" fill="#111" stroke="none" />
<rect x="1280.2" y="599.7" width="5" height="1.8" fill="#fff" stroke="#333" stroke-width="0.6" />
<line x1="1285.6" y1="607.4" x2="1285.6" y2="609.6" stroke="#333" stroke-width="0.8" />
<line x1="1113.2" y1="685" x2="1113.2" y2="1096.3" stroke="#111" stroke-width="2.6" />
<line x1="45.4" y1="693.5" x2="1112" y2="693.5" stroke="#9a9a9a" stroke-width="1.0" />
<polygon points="45.4,693.2 57.4,689.9 57.4,696.5" fill="#111" stroke="none" stroke-linejoin="miter" />
<polygon points="1112,693.2 1100,696.5 1100,689.9" fill="#111" stroke="none" stroke-linejoin="miter" />
<text x="545.1" y="687.2" font-family="Liberation Sans" font-size="17.5" text-anchor="middle" fill="#111" >Prof.</text>
<line x1="45.4" y1="729.5" x2="870.3" y2="729.5" stroke="#9a9a9a" stroke-width="1.0" />
<polygon points="45.4,729.4 57.4,726.1 57.4,732.7" fill="#111" stroke="none" stroke-linejoin="miter" />
<polygon points="870.3,729.4 858.3,732.7 858.3,726.1" fill="#111" stroke="none" stroke-linejoin="miter" />
<text x="470.3" y="723.5" font-family="Liberation Sans" font-size="17.5" text-anchor="middle" fill="#111" >A</text>
<line x1="45.5" y1="686.3" x2="45.5" y2="822.9" stroke="#1a1a1a" stroke-width="1.0" />
<path d="M42.1,823 L42.1,806 Q42.1,802.9 45.5,802.9 L60,802.9" fill="none" stroke="#222" stroke-width="1.3" />
<circle cx="61.4" cy="802.9" r="1.5" fill="#fff" stroke="#222" stroke-width="1.0" />
<path d="M346.3,864.4 L346.3,791.6 Q346.3,788.6 349.3,788.6 L1103.5,788.6 Q1106.5,788.6 1106.5,791.6 L1106.5,864.4 Z" fill="#dadada" stroke="#555" stroke-width="1.0" />
<line x1="346.3" y1="793.5" x2="1106.5" y2="793.5" stroke="#333" stroke-width="1.0" />
<circle cx="361.8" cy="805.2" r="6.8" fill="#f4f4f4" stroke="#333" stroke-width="1.0" />
<circle cx="361.8" cy="805.2" r="5.6" fill="#fdfdfd" stroke="#444" stroke-width="0.8" />
<circle cx="361.8" cy="826" r="6.8" fill="#f4f4f4" stroke="#333" stroke-width="1.0" />
<circle cx="361.8" cy="826" r="5.6" fill="#fdfdfd" stroke="#444" stroke-width="0.8" />
<circle cx="377.6" cy="805.2" r="6.8" fill="#f4f4f4" stroke="#333" stroke-width="1.0" />
<circle cx="377.6" cy="805.2" r="5.6" fill="#fdfdfd" stroke="#444" stroke-width="0.8" />
<circle cx="377.6" cy="826" r="6.8" fill="#f4f4f4" stroke="#333" stroke-width="1.0" />
<circle cx="377.6" cy="826" r="5.6" fill="#fdfdfd" stroke="#444" stroke-width="0.8" />
<circle cx="393.4" cy="805.2" r="6.8" fill="#f4f4f4" stroke="#333" stroke-width="1.0" />
<circle cx="393.4" cy="805.2" r="5.6" fill="#fdfdfd" stroke="#444" stroke-width="0.8" />
<circle cx="393.4" cy="826" r="6.8" fill="#f4f4f4" stroke="#333" stroke-width="1.0" />
<circle cx="393.4" cy="826" r="5.6" fill="#fdfdfd" stroke="#444" stroke-width="0.8" />
<circle cx="485.9" cy="805.2" r="6.8" fill="#f4f4f4" stroke="#333" stroke-width="1.0" />
<circle cx="485.9" cy="805.2" r="5.6" fill="#fdfdfd" stroke="#444" stroke-width="0.8" />
<circle cx="485.9" cy="826" r="6.8" fill="#f4f4f4" stroke="#333" stroke-width="1.0" />
<circle cx="485.9" cy="826" r="5.6" fill="#fdfdfd" stroke="#444" stroke-width="0.8" />
<circle cx="501.4" cy="805.2" r="6.8" fill="#f4f4f4" stroke="#333" stroke-width="1.0" />
<circle cx="501.4" cy="805.2" r="5.6" fill="#fdfdfd" stroke="#444" stroke-width="0.8" />
<circle cx="501.4" cy="826" r="6.8" fill="#f4f4f4" stroke="#333" stroke-width="1.0" />
<circle cx="501.4" cy="826" r="5.6" fill="#fdfdfd" stroke="#444" stroke-width="0.8" />
<circle cx="529.7" cy="805.2" r="6.8" fill="#f4f4f4" stroke="#333" stroke-width="1.0" />
<circle cx="529.7" cy="805.2" r="5.6" fill="#fdfdfd" stroke="#444" stroke-width="0.8" />
<circle cx="529.7" cy="826" r="6.8" fill="#f4f4f4" stroke="#333" stroke-width="1.0" />
<circle cx="529.7" cy="826" r="5.6" fill="#fdfdfd" stroke="#444" stroke-width="0.8" />
<circle cx="545.5" cy="805.2" r="6.8" fill="#f4f4f4" stroke="#333" stroke-width="1.0" />
<circle cx="545.5" cy="805.2" r="5.6" fill="#fdfdfd" stroke="#444" stroke-width="0.8" />
<circle cx="545.5" cy="826" r="6.8" fill="#f4f4f4" stroke="#333" stroke-width="1.0" />
<circle cx="545.5" cy="826" r="5.6" fill="#fdfdfd" stroke="#444" stroke-width="0.8" />
<circle cx="561" cy="805.2" r="6.8" fill="#f4f4f4" stroke="#333" stroke-width="1.0" />
<circle cx="561" cy="805.2" r="5.6" fill="#fdfdfd" stroke="#444" stroke-width="0.8" />
<circle cx="561" cy="826" r="6.8" fill="#f4f4f4" stroke="#333" stroke-width="1.0" />
<circle cx="561" cy="826" r="5.6" fill="#fdfdfd" stroke="#444" stroke-width="0.8" />
<circle cx="656.3" cy="805.2" r="6.8" fill="#f4f4f4" stroke="#333" stroke-width="1.0" />
<circle cx="656.3" cy="805.2" r="5.6" fill="#fdfdfd" stroke="#444" stroke-width="0.8" />
<circle cx="656.3" cy="826" r="6.8" fill="#f4f4f4" stroke="#333" stroke-width="1.0" />
<circle cx="656.3" cy="826" r="5.6" fill="#fdfdfd" stroke="#444" stroke-width="0.8" />
<circle cx="672.1" cy="805.2" r="6.8" fill="#f4f4f4" stroke="#333" stroke-width="1.0" />
<circle cx="672.1" cy="805.2" r="5.6" fill="#fdfdfd" stroke="#444" stroke-width="0.8" />
<circle cx="672.1" cy="826" r="6.8" fill="#f4f4f4" stroke="#333" stroke-width="1.0" />
<circle cx="672.1" cy="826" r="5.6" fill="#fdfdfd" stroke="#444" stroke-width="0.8" />
<circle cx="687.6" cy="805.2" r="6.8" fill="#f4f4f4" stroke="#333" stroke-width="1.0" />
<circle cx="687.6" cy="805.2" r="5.6" fill="#fdfdfd" stroke="#444" stroke-width="0.8" />
<circle cx="687.6" cy="826" r="6.8" fill="#f4f4f4" stroke="#333" stroke-width="1.0" />
<circle cx="687.6" cy="826" r="5.6" fill="#fdfdfd" stroke="#444" stroke-width="0.8" />
<circle cx="824.4" cy="805.2" r="6.8" fill="#f4f4f4" stroke="#333" stroke-width="1.0" />
<circle cx="824.4" cy="805.2" r="5.6" fill="#fdfdfd" stroke="#444" stroke-width="0.8" />
<circle cx="824.4" cy="826" r="6.8" fill="#f4f4f4" stroke="#333" stroke-width="1.0" />
<circle cx="824.4" cy="826" r="5.6" fill="#fdfdfd" stroke="#444" stroke-width="0.8" />
<circle cx="840" cy="805.2" r="6.8" fill="#f4f4f4" stroke="#333" stroke-width="1.0" />
<circle cx="840" cy="805.2" r="5.6" fill="#fdfdfd" stroke="#444" stroke-width="0.8" />
<circle cx="840" cy="826" r="6.8" fill="#f4f4f4" stroke="#333" stroke-width="1.0" />
<circle cx="840" cy="826" r="5.6" fill="#fdfdfd" stroke="#444" stroke-width="0.8" />
<circle cx="855.9" cy="805.2" r="6.8" fill="#f4f4f4" stroke="#333" stroke-width="1.0" />
<circle cx="855.9" cy="805.2" r="5.6" fill="#fdfdfd" stroke="#444" stroke-width="0.8" />
<circle cx="855.9" cy="826" r="6.8" fill="#f4f4f4" stroke="#333" stroke-width="1.0" />
<circle cx="855.9" cy="826" r="5.6" fill="#fdfdfd" stroke="#444" stroke-width="0.8" />
<circle cx="1048.3" cy="805.2" r="6.8" fill="#f4f4f4" stroke="#333" stroke-width="1.0" />
<circle cx="1048.3" cy="805.2" r="5.6" fill="#fdfdfd" stroke="#444" stroke-width="0.8" />
<circle cx="1048.3" cy="826" r="6.8" fill="#f4f4f4" stroke="#333" stroke-width="1.0" />
<circle cx="1048.3" cy="826" r="5.6" fill="#fdfdfd" stroke="#444" stroke-width="0.8" />
<circle cx="1063.8" cy="805.2" r="6.8" fill="#f4f4f4" stroke="#333" stroke-width="1.0" />
<circle cx="1063.8" cy="805.2" r="5.6" fill="#fdfdfd" stroke="#444" stroke-width="0.8" />
<circle cx="1063.8" cy="826" r="6.8" fill="#f4f4f4" stroke="#333" stroke-width="1.0" />
<circle cx="1063.8" cy="826" r="5.6" fill="#fdfdfd" stroke="#444" stroke-width="0.8" />
<circle cx="1079.8" cy="805.2" r="6.8" fill="#f4f4f4" stroke="#333" stroke-width="1.0" />
<circle cx="1079.8" cy="805.2" r="5.6" fill="#fdfdfd" stroke="#444" stroke-width="0.8" />
<circle cx="1079.8" cy="826" r="6.8" fill="#f4f4f4" stroke="#333" stroke-width="1.0" />
<circle cx="1079.8" cy="826" r="5.6" fill="#fdfdfd" stroke="#444" stroke-width="0.8" />
<circle cx="1095.8" cy="805.2" r="6.8" fill="#f4f4f4" stroke="#333" stroke-width="1.0" />
<circle cx="1095.8" cy="805.2" r="5.6" fill="#fdfdfd" stroke="#444" stroke-width="0.8" />
<circle cx="1095.8" cy="826" r="6.8" fill="#f4f4f4" stroke="#333" stroke-width="1.0" />
<circle cx="1095.8" cy="826" r="5.6" fill="#fdfdfd" stroke="#444" stroke-width="0.8" />
<line x1="901.3" y1="836.5" x2="1106.5" y2="836.5" stroke="#222" stroke-width="1.0" />
<line x1="901.3" y1="838.5" x2="1106.5" y2="838.5" stroke="#aaa" stroke-width="0.7" />
<rect x="1093.5" y="839.5" width="4" height="7" fill="#fff" stroke="#222" stroke-width="0.8" />
<rect x="31.5" y="823.5" width="870" height="28" fill="#dadada" stroke="#333" stroke-width="1.0" />
<rect x="847.5" y="825.5" width="36" height="20" rx="1" fill="#dadada" stroke="#222" stroke-width="1.0" />
<line x1="847.6" y1="836.5" x2="883.5" y2="836.5" stroke="#222" stroke-width="1.0" />
<line x1="847.6" y1="838.5" x2="883.5" y2="838.5" stroke="#999" stroke-width="0.7" />
<path d="M849.5,827.4 A6.3,6.3 0 0 0 862,827.4 Z" fill="#fff" stroke="#222" stroke-width="1.0" />
<rect x="865.6" y="828.6" width="8.5" height="7.3" fill="#111" stroke="none" />
<rect x="865.5" y="828.5" width="9" height="3" fill="#fff" stroke="#222" stroke-width="0.6" />
<path d="M874,827 L877,827 Q880.5,827 880.5,831 L880.5,836" fill="none" stroke="#222" stroke-width="0.8" />
<rect x="812.5" y="825.5" width="16" height="8" rx="1.2" fill="#dadada" stroke="#999" stroke-width="0.8" />
<line x1="820.5" y1="823.5" x2="820.5" y2="840" stroke="#222" stroke-width="0.9" />
<line x1="870.5" y1="722.7" x2="870.5" y2="856.9" stroke="#1a1a1a" stroke-width="1.0" />
<line x1="361.5" y1="805" x2="361.5" y2="1055" stroke="#888" stroke-width="1.0" />
<line x1="486.5" y1="805" x2="486.5" y2="1026" stroke="#888" stroke-width="1.0" />
<line x1="529.5" y1="805" x2="529.5" y2="988.5" stroke="#1a1a1a" stroke-width="1.0" />
<line x1="656.5" y1="753.8" x2="656.5" y2="959.5" stroke="#1a1a1a" stroke-width="1.0" />
<line x1="672.5" y1="753.8" x2="672.5" y2="805" stroke="#999" stroke-width="1.0" />
<line x1="824.5" y1="805" x2="824.5" y2="923.4" stroke="#1a1a1a" stroke-width="1.0" />
<line x1="1048.5" y1="805" x2="1048.5" y2="1054.5" stroke="#1a1a1a" stroke-width="1.0" />
<line x1="1106.5" y1="864" x2="1106.5" y2="1085.5" stroke="#999" stroke-width="1.0" />
<line x1="31.5" y1="851.7" x2="31.5" y2="1088.9" stroke="#1a1a1a" stroke-width="1.0" />
<line x1="42.5" y1="822.9" x2="42.5" y2="886.8" stroke="#1a1a1a" stroke-width="1.0" />
<line x1="11.3" y1="881.5" x2="79" y2="881.5" stroke="#1a1a1a" stroke-width="0.9" />
<polygon points="31.6,881 19.6,884.3 19.6,877.7" fill="#111" stroke="none" stroke-linejoin="miter" />
<polygon points="42.1,881 54.1,877.7 54.1,884.3" fill="#111" stroke="none" stroke-linejoin="miter" />
<text x="68.2" y="875.5" font-family="Liberation Sans" font-size="18" text-anchor="middle" fill="#111" >7</text>
<line x1="633.2" y1="760.5" x2="707.9" y2="760.5" stroke="#999" stroke-width="0.9" />
<polygon points="656.5,760.6 644.5,763.9 644.5,757.3" fill="#111" stroke="none" stroke-linejoin="miter" />
<polygon points="672.1,760.6 684.1,757.3 684.1,763.9" fill="#111" stroke="none" stroke-linejoin="miter" />
<text x="695.9" y="754.3" font-family="Liberation Sans" font-size="18" text-anchor="middle" fill="#111" >9</text>
<line x1="1095.8" y1="805.5" x2="1140.7" y2="805.5" stroke="#1a1a1a" stroke-width="0.9" />
<line x1="1095.8" y1="826.5" x2="1140.7" y2="826.5" stroke="#1a1a1a" stroke-width="0.9" />
<line x1="1136.5" y1="764.4" x2="1136.5" y2="844.4" stroke="#666" stroke-width="0.9" />
<polygon points="1136.4,805.2 1133.1,793.2 1139.7,793.2" fill="#111" stroke="none" stroke-linejoin="miter" />
<polygon points="1136.4,826 1139.7,838 1133.1,838" fill="#111" stroke="none" stroke-linejoin="miter" />
<text x="1132.5" y="775.2" font-family="Liberation Sans" font-size="18" text-anchor="middle" fill="#111" transform="rotate(-90 1132.5 775.2)" >12</text>
<line x1="1088.2" y1="880.5" x2="1140.7" y2="880.5" stroke="#1a1a1a" stroke-width="0.9" />
<polygon points="1106.3,880.2 1094.3,883.5 1094.3,876.9" fill="#111" stroke="none" stroke-linejoin="miter" />
<polygon points="1113.2,880.2 1125.2,876.9 1125.2,883.5" fill="#111" stroke="none" stroke-linejoin="miter" />
<text x="1133.5" y="873" font-family="Liberation Sans" font-size="18" text-anchor="middle" fill="#111" >4</text>
<line x1="824.4" y1="915.5" x2="1112.7" y2="915.5" stroke="#1a1a1a" stroke-width="1.0" />
<polygon points="824.4,915.4 836.4,912.1 836.4,918.7" fill="#111" stroke="none" stroke-linejoin="miter" />
<polygon points="1048.3,915.4 1036.3,918.7 1036.3,912.1" fill="#111" stroke="none" stroke-linejoin="miter" />
<polygon points="1048.3,915.4 1060.3,912.1 1060.3,918.7" fill="#111" stroke="none" stroke-linejoin="miter" />
<polygon points="1112,915.4 1100,918.7 1100,912.1" fill="#111" stroke="none" stroke-linejoin="miter" />
<text x="943.3" y="905.3" font-family="Liberation Sans" font-size="25.5" text-anchor="middle" fill="#111" >128</text>
<text x="1080.3" y="907.7" font-family="Liberation Sans" font-size="17.5" text-anchor="middle" fill="#111" >37</text>
<line x1="656.5" y1="951.5" x2="1048.3" y2="951.5" stroke="#333" stroke-width="1.0" />
<polygon points="656.5,951.2 668.5,947.9 668.5,954.5" fill="#111" stroke="none" stroke-linejoin="miter" />
<polygon points="1048.3,951.2 1036.3,954.5 1036.3,947.9" fill="#111" stroke="none" stroke-linejoin="miter" />
<text x="839" y="945.8" font-family="Liberation Sans" font-size="18" text-anchor="middle" fill="#111" >Y</text>
<line x1="529.6" y1="981.5" x2="1048.3" y2="981.5" stroke="#777" stroke-width="1.0" />
<polygon points="529.6,981.6 541.6,978.3 541.6,984.9" fill="#111" stroke="none" stroke-linejoin="miter" />
<polygon points="1048.3,981.6 1036.3,984.9 1036.3,978.3" fill="#111" stroke="none" stroke-linejoin="miter" />
<text x="787.2" y="975.1" font-family="Liberation Sans" font-size="18" text-anchor="middle" fill="#111" >Z</text>
<line x1="486" y1="1016.5" x2="1048.3" y2="1016.5" stroke="#333" stroke-width="1.0" />
<polygon points="486,1016.7 498,1013.4 498,1020" fill="#111" stroke="none" stroke-linejoin="miter" />
<polygon points="1048.3,1016.7 1036.3,1020 1036.3,1013.4" fill="#111" stroke="none" stroke-linejoin="miter" />
<text x="742" y="1008.1" font-family="Liberation Sans" font-size="18" text-anchor="middle" fill="#111" >V</text>
<line x1="361.8" y1="1050.5" x2="1048.3" y2="1050.5" stroke="#888" stroke-width="1.0" />
<polygon points="361.8,1050.6 373.8,1047.3 373.8,1053.9" fill="#111" stroke="none" stroke-linejoin="miter" />
<polygon points="1048.3,1050.6 1036.3,1053.9 1036.3,1047.3" fill="#111" stroke="none" stroke-linejoin="miter" />
<text x="665.5" y="1042.4" font-family="Liberation Sans" font-size="18" text-anchor="middle" fill="#111" >W</text>
<line x1="31.6" y1="1082.5" x2="1106" y2="1082.5" stroke="#999" stroke-width="1.0" />
<polygon points="31.6,1082 43.6,1078.7 43.6,1085.3" fill="#111" stroke="none" stroke-linejoin="miter" />
<polygon points="1106,1082 1094,1085.3 1094,1078.7" fill="#111" stroke="none" stroke-linejoin="miter" />
<text x="522.1" y="1074.4" font-family="Liberation Sans" font-size="18" text-anchor="middle" fill="#111" >L</text>
<rect x="1157.4" y="948.3" width="478" height="38.2" fill="#6d6e6f" stroke="none" />
<rect x="1157.5" y="986.5" width="478" height="36" fill="#fff" stroke="#9a9a9a" stroke-width="1.0" />
<rect x="1157.5" y="948.5" width="478" height="74" fill="none" stroke="#8a8a8a" stroke-width="1.0" />
<line x1="1210.7" y1="948.3" x2="1210.7" y2="986.5" stroke="#58595b" stroke-width="1.4" />
<line x1="1210.5" y1="986.5" x2="1210.5" y2="1022" stroke="#9a9a9a" stroke-width="1.0" />
<line x1="1263.6" y1="948.3" x2="1263.6" y2="986.5" stroke="#58595b" stroke-width="1.4" />
<line x1="1263.5" y1="986.5" x2="1263.5" y2="1022" stroke="#9a9a9a" stroke-width="1.0" />
<line x1="1316.6" y1="948.3" x2="1316.6" y2="986.5" stroke="#58595b" stroke-width="1.4" />
<line x1="1316.5" y1="986.5" x2="1316.5" y2="1022" stroke="#9a9a9a" stroke-width="1.0" />
<line x1="1369.9" y1="948.3" x2="1369.9" y2="986.5" stroke="#58595b" stroke-width="1.4" />
<line x1="1369.5" y1="986.5" x2="1369.5" y2="1022" stroke="#9a9a9a" stroke-width="1.0" />
<line x1="1422.9" y1="948.3" x2="1422.9" y2="986.5" stroke="#58595b" stroke-width="1.4" />
<line x1="1422.5" y1="986.5" x2="1422.5" y2="1022" stroke="#9a9a9a" stroke-width="1.0" />
<line x1="1476.1" y1="948.3" x2="1476.1" y2="986.5" stroke="#58595b" stroke-width="1.4" />
<line x1="1476.5" y1="986.5" x2="1476.5" y2="1022" stroke="#9a9a9a" stroke-width="1.0" />
<line x1="1529.1" y1="948.3" x2="1529.1" y2="986.5" stroke="#58595b" stroke-width="1.4" />
<line x1="1529.5" y1="986.5" x2="1529.5" y2="1022" stroke="#9a9a9a" stroke-width="1.0" />
<line x1="1582.4" y1="948.3" x2="1582.4" y2="986.5" stroke="#58595b" stroke-width="1.4" />
<line x1="1582.5" y1="986.5" x2="1582.5" y2="1022" stroke="#9a9a9a" stroke-width="1.0" />
<text x="1186.3" y="974" font-family="Liberation Sans" font-size="14" text-anchor="middle" fill="#f4f4f4" letter-spacing="0.4">Prof.</text>
<text x="1184" y="1011" font-family="Liberation Sans" font-size="14" text-anchor="middle" fill="#333333" letter-spacing="0.6">340</text>
<text x="1236.4" y="974" font-family="Liberation Sans" font-size="14" text-anchor="middle" fill="#f4f4f4" letter-spacing="0.4">Y</text>
<text x="1235.2" y="1011" font-family="Liberation Sans" font-size="14" text-anchor="middle" fill="#333333" letter-spacing="0.6">192</text>
<text x="1289.7" y="974" font-family="Liberation Sans" font-size="14" text-anchor="middle" fill="#f4f4f4" letter-spacing="0.4">Z</text>
<text x="1290.2" y="1011" font-family="Liberation Sans" font-size="14" text-anchor="middle" fill="#333333" letter-spacing="0.6">-</text>
<text x="1343" y="974" font-family="Liberation Sans" font-size="14" text-anchor="middle" fill="#f4f4f4" letter-spacing="0.4">V</text>
<text x="1343.3" y="1011" font-family="Liberation Sans" font-size="14" text-anchor="middle" fill="#333333" letter-spacing="0.6">-</text>
<text x="1398.6" y="974" font-family="Liberation Sans" font-size="14" text-anchor="middle" fill="#f4f4f4" letter-spacing="0.4">W</text>
<text x="1397.2" y="1011" font-family="Liberation Sans" font-size="14" text-anchor="middle" fill="#333333" letter-spacing="0.6">-</text>
<text x="1449.5" y="974" font-family="Liberation Sans" font-size="14" text-anchor="middle" fill="#f4f4f4" letter-spacing="0.4">A</text>
<text x="1449.2" y="1011" font-family="Liberation Sans" font-size="14" text-anchor="middle" fill="#333333" letter-spacing="0.6">270</text>
<text x="1502.2" y="974" font-family="Liberation Sans" font-size="14" text-anchor="middle" fill="#f4f4f4" letter-spacing="0.4">B</text>
<text x="1502" y="1011" font-family="Liberation Sans" font-size="14" text-anchor="middle" fill="#333333" letter-spacing="0.6">238</text>
<text x="1554.6" y="974" font-family="Liberation Sans" font-size="14" text-anchor="middle" fill="#f4f4f4" letter-spacing="0.4">L</text>
<text x="1555.6" y="1011" font-family="Liberation Sans" font-size="14" text-anchor="middle" fill="#333333" letter-spacing="0.6">350</text>
<text x="1608.1" y="974" font-family="Liberation Sans" font-size="14" text-anchor="middle" fill="#f4f4f4" letter-spacing="0.4">AV</text>
<text x="1609.6" y="1011" font-family="Liberation Sans" font-size="14" text-anchor="middle" fill="#333333" letter-spacing="0.6">86</text>
</svg>
</body></html>
